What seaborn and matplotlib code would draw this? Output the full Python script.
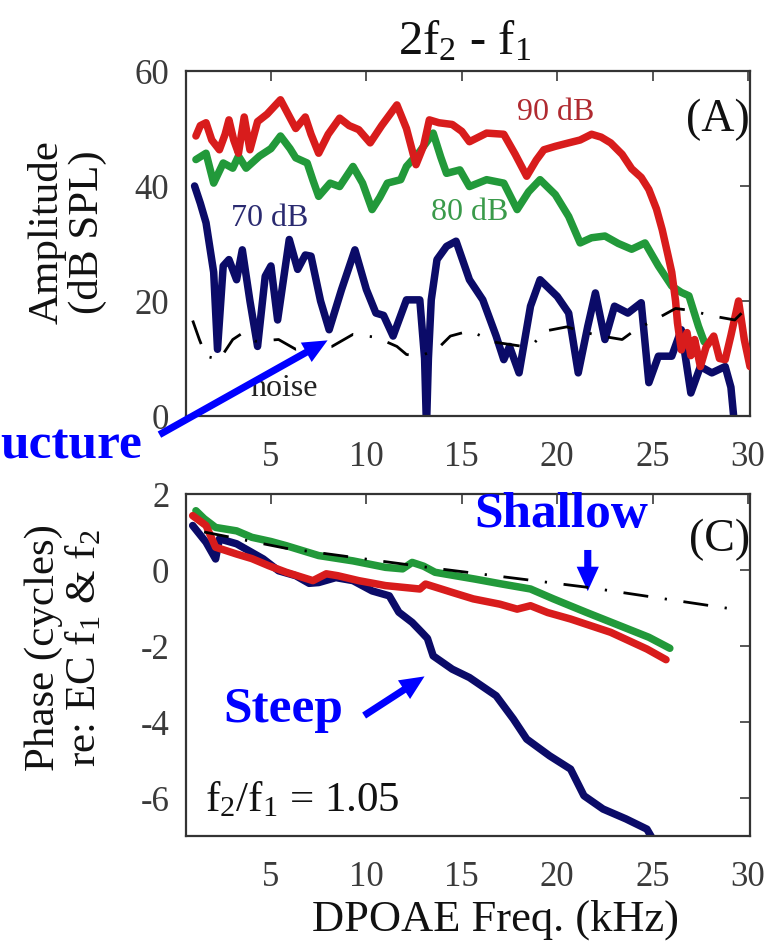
import numpy as np
import pandas as pd
import matplotlib
matplotlib.use("Agg")
import matplotlib.pyplot as plt
import seaborn as sns

# ---------------- data ----------------
# Panel A: amplitude (dB SPL) vs DPOAE frequency (kHz)
amp90_x = [1.07, 1.3, 1.6, 1.9, 2.3, 2.6, 2.8, 3.05, 3.3, 3.6, 3.9, 4.3, 4.8, 5.5, 5.9, 6.3, 6.8, 7.1,
           7.5, 8.0, 8.6, 9.1, 9.6, 10.2, 10.8, 11.6, 12.1, 12.6, 13.0, 13.3, 13.8, 14.5, 15.0, 15.4,
           16.3, 17.2, 17.8, 18.4, 18.9, 19.3, 19.9, 20.6, 21.2, 21.8, 22.3, 22.8, 23.4, 23.9, 24.4,
           24.8, 25.2, 25.5, 25.8, 26.0, 26.2, 26.3, 26.5, 26.8, 27.0, 27.2, 27.5, 27.8, 28.2, 28.5,
           28.8, 29.1, 29.5, 29.8, 30.1]
amp90_y = [48.7, 50.5, 51.0, 48.0, 46.3, 49.0, 51.5, 48.0, 45.7, 52.0, 46.3, 51.2, 52.5, 55.0, 52.5,
           50.0, 52.0, 49.0, 45.7, 49.0, 51.8, 50.5, 49.8, 47.5, 50.5, 54.1, 50.0, 43.7, 47.0, 51.5,
           51.0, 50.7, 49.5, 47.7, 49.2, 49.0, 45.5, 41.7, 44.5, 46.3, 46.9, 47.5, 48.0, 49.0, 48.5,
           47.5, 45.5, 43.0, 41.5, 39.4, 36.0, 32.4, 28.0, 25.0, 20.0, 16.2, 11.5, 14.5, 10.5, 13.3,
           8.6, 12.0, 13.9, 10.0, 9.8, 14.0, 20.0, 13.3, 8.6]

amp80_x = [1.07, 1.6, 2.0, 2.5, 3.0, 3.3, 3.7, 4.4, 5.0, 5.5, 6.0, 6.3, 6.9, 7.2, 7.5, 8.1, 8.6, 9.3,
           9.8, 10.3, 10.7, 11.1, 11.8, 12.1, 12.8, 13.5, 13.9, 14.2, 14.9, 15.4, 16.3, 17.2, 17.9,
           18.5, 19.1, 19.9, 20.6, 21.2, 21.8, 22.5, 23.2, 23.9, 24.6, 25.3, 26.0, 26.5, 26.9, 27.4, 27.7]
amp80_y = [44.6, 45.7, 40.5, 44.0, 43.1, 45.2, 43.1, 45.2, 46.5, 48.7, 46.5, 44.9, 44.0, 41.0, 38.2,
           40.5, 39.9, 43.4, 40.5, 35.9, 38.0, 40.5, 41.1, 43.4, 46.0, 49.2, 45.0, 42.2, 42.8, 39.9,
           41.1, 40.5, 35.9, 39.0, 41.1, 38.5, 34.7, 30.1, 31.0, 31.3, 30.0, 29.0, 30.1, 26.1, 22.6,
           21.5, 20.9, 15.6, 12.9]

amp70_x = [1.0, 1.3, 1.6, 2.0, 2.2, 2.5, 2.8, 3.2, 3.5, 3.9, 4.3, 4.7, 5.0, 5.35, 5.96, 6.4, 6.8, 7.1,
           7.6, 8.05, 8.7, 9.4, 10.0, 10.5, 10.9, 11.4, 12.1, 12.8, 13.05, 13.15, 13.25, 13.4, 13.7,
           14.2, 14.7, 15.4, 16.1, 16.8, 17.2, 17.5, 18.0, 18.6, 19.1, 20.0, 20.6, 21.1, 21.6, 22.0,
           22.5, 23.0, 23.7, 24.4, 24.8, 25.3, 26.0, 26.5, 27.0, 27.5, 28.1, 28.8, 29.1, 29.3]
amp70_y = [40.0, 37.0, 33.6, 25.0, 11.6, 26.1, 27.2, 23.7, 28.9, 20.0, 12.1, 24.3, 26.1, 16.7, 30.7,
           25.5, 28.0, 27.8, 20.0, 15.0, 22.0, 28.9, 22.0, 17.9, 17.5, 13.9, 20.2, 20.2, 10.0, -2.0,
           10.0, 20.2, 27.2, 29.5, 30.4, 23.7, 20.2, 13.9, 9.8, 12.1, 7.5, 19.1, 23.7, 20.8, 17.9,
           7.5, 15.6, 21.4, 13.3, 19.1, 17.9, 19.7, 5.8, 10.4, 10.4, 15.0, 4.0, 8.6, 7.5, 8.6, 5.0, -2.0]

noiseA_x = [0.9, 1.25, 1.6, 2.3, 3.0, 3.5, 4.2, 5.4, 6.3, 7.2, 8.2, 9.3, 10.5, 11.6, 12.1, 12.8, 13.7,
            14.4, 15.4, 16.8, 18.2, 18.7, 19.4, 20.5, 21.5, 22.5, 23.4, 24.1, 25.1, 26.2, 26.9, 28.3,
            29.3, 30.0]
noiseA_y = [16.6, 13.3, 10.4, 9.8, 13.3, 14.4, 13.0, 13.3, 11.6, 12.0, 12.1, 14.2, 13.7, 12.1, 10.7,
            10.4, 11.6, 13.9, 14.8, 12.8, 12.1, 12.4, 14.8, 15.5, 14.5, 13.8, 13.3, 15.0, 16.7, 18.7,
            18.4, 17.3, 16.7, 19.0]

# Panel C: phase (cycles) vs DPOAE frequency (kHz)
ph80_x = [1.07, 1.5, 2.1, 3.2, 4.0, 5.0, 5.8, 7.5, 9.3, 11.0, 11.9, 12.4, 13.0, 13.6, 15.7, 17.0,
          18.6, 19.8, 21.5, 23.3, 24.8, 25.9]
ph80_y = [1.56, 1.35, 1.12, 1.03, 0.86, 0.75, 0.64, 0.38, 0.24, 0.07, 0.03, 0.2, 0.1, -0.06, -0.24,
          -0.36, -0.5, -0.76, -1.11, -1.47, -1.77, -2.06]

ph90_x = [0.9, 1.6, 2.1, 3.2, 4.0, 4.9, 5.8, 7.2, 7.9, 8.5, 9.6, 11.0, 12.8, 13.1, 14.5, 15.6, 17.0,
          17.9, 18.6, 19.5, 20.7, 22.8, 24.7, 25.7]
ph90_y = [1.43, 1.17, 0.6, 0.42, 0.3, 0.11, -0.06, -0.28, -0.1, -0.15, -0.28, -0.41, -0.5, -0.37,
          -0.59, -0.76, -0.9, -1.03, -0.94, -1.12, -1.29, -1.64, -2.08, -2.36]

ph70_x = [0.9, 1.6, 2.1, 2.3, 3.2, 4.6, 5.4, 6.3, 7.0, 7.5, 8.4, 9.3, 10.3, 11.2, 11.7, 12.4, 12.9,
          13.2, 13.5, 14.5, 15.4, 16.8, 17.7, 18.4, 19.6, 20.7, 21.4, 22.4, 23.6, 24.7, 25.0]
ph70_y = [1.17, 0.73, 0.29, 0.82, 0.69, 0.29, -0.02, -0.15, -0.35, -0.33, -0.2, -0.28, -0.55, -0.68,
          -1.11, -1.38, -1.64, -1.8, -2.26, -2.61, -2.83, -3.31, -3.92, -4.45, -4.89, -5.24, -5.94,
          -6.29, -6.55, -6.82, -7.08]

noiseC_x = [1.5, 5.8, 13.2, 21.5, 29.5]
noiseC_y = [1.0, 0.57, 0.07, -0.45, -1.05]

x_ticks = [5, 10, 15, 20, 25, 30]
ampA_ticks = [0, 20, 40, 60]
phC_ticks = [-6, -4, -2, 0, 2]

# ---------------- styling ----------------
sns.set_theme(style="white")
plt.rcParams['font.family'] = ['Liberation Serif', 'DejaVu Serif']
plt.rcParams['mathtext.fontset'] = 'custom'
plt.rcParams['mathtext.rm'] = 'Liberation Serif'
plt.rcParams['mathtext.it'] = 'Liberation Serif:italic'
plt.rcParams['axes.unicode_minus'] = False

RED = '#d81c1c'
GREEN = '#22993a'
NAVY = '#0b0b68'
BLUE = '#0000ff'
TICKC = '#3a3a3a'
LW = 5.4

W, H = 767, 945
fig = plt.figure(figsize=(W / 100, H / 100), dpi=100)
fig.patch.set_facecolor('white')

def fx(px):
    return px / W

def fy(py):
    return 1 - py / H

axA = fig.add_axes([fx(186), fy(417), (750 - 186) / W, (417 - 72) / H])
axC = fig.add_axes([fx(186), fy(837), (750 - 186) / W, (837 - 495) / H])

noise_dash = (0, (9, 6, 0.8, 6))

def series(ax, xs, ys, color, lw, ls='-', z=2):
    df = pd.DataFrame({'f': xs, 'v': ys})
    sns.lineplot(data=df, x='f', y='v', ax=ax, color=color, lw=lw, sort=False,
                 estimator=None, linestyle=ls, zorder=z, solid_joinstyle='round',
                 solid_capstyle='round')

# Panel A
series(axA, amp70_x, amp70_y, NAVY, LW, z=2)
series(axA, amp80_x, amp80_y, GREEN, LW, z=3)
series(axA, amp90_x, amp90_y, RED, LW, z=4)
series(axA, noiseA_x, noiseA_y, 'black', 2.0, ls=noise_dash, z=5)

# Panel C
series(axC, ph70_x, ph70_y, NAVY, LW, z=2)
series(axC, ph80_x, ph80_y, GREEN, LW, z=3)
series(axC, ph90_x, ph90_y, RED, LW, z=4)
series(axC, noiseC_x, noiseC_y, 'black', 2.0, ls=noise_dash, z=5)

for ax, yl, yt in [(axA, (0, 60), ampA_ticks), (axC, (-7, 2), phC_ticks)]:
    ax.set_xlim(0.55, 30.1)
    ax.set_ylim(*yl)
    ax.set_xticks(x_ticks)
    ax.set_yticks(yt)
    ax.set_xlabel('')
    ax.set_ylabel('')
    ax.tick_params(direction='in', top=True, right=True, length=7, width=1.2,
                   color=TICKC, labelcolor=TICKC, labelsize=25)
    ax.tick_params(axis='x', pad=17)
    ax.tick_params(axis='y', pad=12)
    for s in ax.spines.values():
        s.set_color('#333333')
        s.set_linewidth(1.6)
    ax.set_facecolor('white')

# titles and labels
fig.text(fx(465), fy(42), r'2f$_2$ - f$_1$', ha='center', va='center', fontsize=35, color='#111111')
fig.text(fx(67), fy(232), 'Amplitude\n(dB SPL)', rotation=90, ha='center', va='center',
         fontsize=31, color='#111111', linespacing=1.05, multialignment='center')
fig.text(fx(64), fy(648), 'Phase (cycles)\nre: EC f$_1$ & f$_2$', rotation=90, ha='center',
         va='center', fontsize=31, color='#111111', linespacing=1.05, multialignment='center')
fig.text(fx(495), fy(920), 'DPOAE Freq. (kHz)', ha='center', va='center', fontsize=32,
         color='#111111')

# panel A annotations
axA.text(19.9, 53.0, '90 dB', color='#b02a30', fontsize=23, ha='center', va='center')
axA.text(15.4, 35.5, '80 dB', color='#3a9a4a', fontsize=23, ha='center', va='center')
axA.text(4.95, 34.6, '70 dB', color='#2a2a70', fontsize=23, ha='center', va='center')
axA.text(5.7, 5.0, 'noise', color='#222222', fontsize=23, ha='center', va='center')
axA.text(28.4, 51.7, '(A)', color='#111111', fontsize=33, ha='center', va='center')

# panel C annotations
axC.text(28.5, 0.82, '(C)', color='#111111', fontsize=33, ha='center', va='center')
axC.text(20.2, 1.47, 'Shallow', color=BLUE, fontsize=37, fontweight='bold', ha='center',
         va='center', zorder=6)
axC.text(5.63, -3.66, 'Steep', color=BLUE, fontsize=37, fontweight='bold', ha='center',
         va='center')
axC.text(1.54, -6.03, r'f$_2$/f$_1$ = 1.05', color='#111111', fontsize=31, ha='left', va='center')

arrow_style = 'simple,head_width=1.0,head_length=1.1,tail_width=0.32'
axC.annotate('', xy=(21.6, -0.63), xytext=(21.6, 0.6),
             arrowprops=dict(arrowstyle=arrow_style, color=BLUE, mutation_scale=16, lw=0))
axC.annotate('', xy=(13.17, -2.76), xytext=(9.76, -3.87),
             arrowprops=dict(arrowstyle=arrow_style, color=BLUE, mutation_scale=16, lw=0))

fig.text(0.0, fy(447), 'ucture', color=BLUE, fontsize=37, fontweight='bold', ha='left',
         va='center')
fig.add_artist(matplotlib.patches.FancyArrowPatch(
    posA=(fx(157), fy(437)), posB=(fx(330), fy(340)), transform=fig.transFigure,
    arrowstyle=arrow_style, mutation_scale=16, color=BLUE, lw=0, zorder=10))

fig.savefig('out.png', dpi=100, facecolor='white')
